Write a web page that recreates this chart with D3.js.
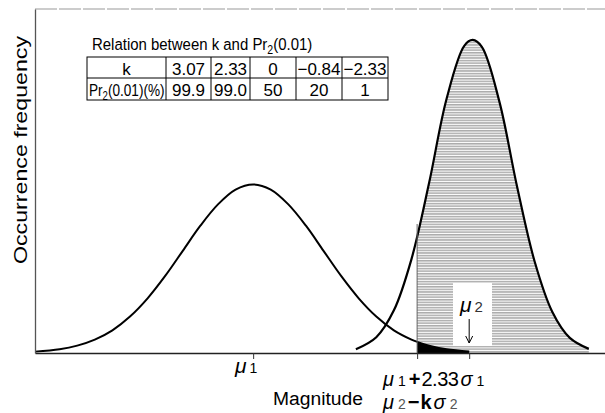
<!DOCTYPE html>
<html>
<head>
<meta charset="utf-8">
<script src="https://cdn.jsdelivr.net/npm/d3@7"></script>
<style>
  body { margin: 0; background: #fff; }
  svg { display: block; }
  text { font-family: "Liberation Sans", Arial, sans-serif; fill: #000; }
</style>
</head>
<body>
<div id="chart"></div>
<script>
// curve 1 (lower distribution), x in sigma1 units from mu1
let curve1X = [-3.1, -2.75, -2.5, -2.25, -2.0, -1.75, -1.5, -1.25, -1.0, -0.75, -0.5, -0.25, 0,
               0.25, 0.5, 0.75, 1.0, 1.25, 1.5, 1.75, 2.0, 2.25, 2.33, 2.5, 2.75, 3.07];
let curve1Y = [0.004, 0.011, 0.0215, 0.039, 0.066, 0.106, 0.159, 0.224, 0.297, 0.370, 0.432, 0.475, 0.49,
               0.475, 0.432, 0.370, 0.297, 0.224, 0.159, 0.106, 0.066, 0.039, 0.0325, 0.0215, 0.011, 0.0044];
// curve 2 (upper distribution)
let curve2X = [1.46, 1.75, 2.0, 2.25, 2.5, 2.75, 3.0, 3.12, 3.25, 3.5, 3.75, 4.0, 4.25, 4.5, 4.77];
let curve2Y = [0.011, 0.046, 0.124, 0.273, 0.494, 0.740, 0.893, 0.91, 0.890, 0.730, 0.484, 0.266, 0.120, 0.044, 0.012];

let mu1 = 0;
let cut = 2.33;      // mu1 + 2.33 sigma1
let mu2 = 3.07;      // mu2 tick
let cutLineTop = 0.375;

// table
let tableTitle = "Relation between k and Pr";
let rowHeads = ["k", "Pr"];
let kValues = ["3.07", "2.33", "0", "\u22120.84", "\u22122.33"];
let prValues = ["99.9", "99.0", "50", "20", "1"];

let config = { svg: { width: 605, height: 413 } };
let plot = { left: 35, right: 605, top: 9, bottom: 353 };

let svg = d3.select("#chart").append("svg")
  .attr("width", config.svg.width)
  .attr("height", config.svg.height);

let x = d3.scaleLinear().domain([-3.1, 5.0]).range([plot.left, plot.right]);
let y = d3.scaleLinear().domain([0, 1]).range([plot.bottom, plot.top]);

let c1 = curve1X.map((v, i) => ({ x: v, y: curve1Y[i] }));
let c2 = curve2X.map((v, i) => ({ x: v, y: curve2Y[i] }));

let line = d3.line().x(d => x(d.x)).y(d => y(d.y)).curve(d3.curveCatmullRom.alpha(0.5));
let area = d3.area().x(d => x(d.x)).y0(y(0)).y1(d => y(d.y)).curve(d3.curveCatmullRom.alpha(0.5));

let defs = svg.append("defs");
let pat = defs.append("pattern")
  .attr("id", "hatch")
  .attr("patternUnits", "userSpaceOnUse")
  .attr("width", 8).attr("height", 2.6);
pat.append("rect").attr("width", 8).attr("height", 2.6).attr("fill", "#fff");
pat.append("line").attr("x1", 0).attr("x2", 8).attr("y1", 0.8).attr("y2", 0.8)
  .attr("stroke", "#8a8a8a").attr("stroke-width", 1.1);

defs.append("clipPath").attr("id", "rightOfCut")
  .append("rect")
  .attr("x", x(cut)).attr("y", 0)
  .attr("width", plot.right - x(cut)).attr("height", plot.bottom);

// top frame line
svg.append("line")
  .attr("x1", plot.left).attr("x2", plot.right)
  .attr("y1", plot.top).attr("y2", plot.top)
  .attr("stroke", "#9a9a9a").attr("stroke-width", 1.2)
  .attr("stroke-dasharray", "22,2");

// hatched region
svg.append("path")
  .datum(c2)
  .attr("d", area)
  .attr("fill", "url(#hatch)")
  .attr("clip-path", "url(#rightOfCut)");

// white box behind mu2 label
svg.append("rect")
  .attr("x", 453).attr("y", 283)
  .attr("width", 39).attr("height", 63)
  .attr("fill", "#fff");

// black tail of curve 1
svg.append("path")
  .datum(c1.filter(d => d.x >= cut && d.x <= mu2))
  .attr("d", area)
  .attr("fill", "#000");

// curves
svg.append("path").datum(c1).attr("d", line)
  .attr("fill", "none").attr("stroke", "#000").attr("stroke-width", 2);
svg.append("path").datum(c2).attr("d", line)
  .attr("fill", "none").attr("stroke", "#000").attr("stroke-width", 2.2);

// axes
let xAxis = d3.axisBottom(x).tickValues([mu1, cut, mu2]).tickFormat("").tickSize(6).tickSizeOuter(0);
let gx = svg.append("g")
  .attr("transform", "translate(0," + plot.bottom + ")")
  .call(xAxis);
gx.select(".domain").attr("stroke", "#222").attr("stroke-width", 1.3);
gx.selectAll(".tick line").attr("stroke", "#333");

let yAxis = d3.axisLeft(y).tickValues([]).tickSizeOuter(0);
let gy = svg.append("g")
  .attr("transform", "translate(" + plot.left + ",0)")
  .call(yAxis);
gy.select(".domain").attr("stroke", "#555").attr("stroke-width", 1.3);

// cut line
svg.append("line")
  .attr("x1", x(cut)).attr("x2", x(cut))
  .attr("y1", y(cutLineTop)).attr("y2", plot.bottom)
  .attr("stroke", "#666").attr("stroke-width", 1);

// mu2 label + arrow
let m2 = svg.append("text").attr("x", 460).attr("y", 312).style("font-size", "21px");
m2.append("tspan").text("\u03bc").style("font-style", "italic");
m2.append("tspan").text("2").attr("dx", 3).style("font-size", "15px").style("fill", "#333");
svg.append("path")
  .attr("d", "M" + x(mu2) + ",319 V343 M" + (x(mu2) - 3.5) + ",336 L" + x(mu2) + ",343 L" + (x(mu2) + 3.5) + ",336")
  .attr("fill", "none").attr("stroke", "#000").attr("stroke-width", 1);

// x labels
let m1 = svg.append("text").attr("x", 235).attr("y", 373).style("font-size", "21px");
m1.append("tspan").text("\u03bc").style("font-style", "italic");
m1.append("tspan").text("1").attr("dx", 3).style("font-size", "14px");

svg.append("text").attr("x", 273).attr("y", 405)
  .attr("textLength", 90).attr("lengthAdjust", "spacingAndGlyphs")
  .style("font-size", "18px").text("Magnitude");

let l1 = svg.append("text").attr("x", 383).attr("y", 386).style("font-size", "20px");
l1.append("tspan").text("\u03bc").style("font-style", "italic");
l1.append("tspan").text("1").attr("dx", 4).style("font-size", "14px");
l1.append("tspan").text("+").attr("dx", 3).style("font-weight", "bold");
l1.append("tspan").text("2.33").attr("dx", 1).style("letter-spacing", "-0.5px");
l1.append("tspan").text("\u03c3").attr("dx", 2).style("font-style", "italic");
l1.append("tspan").text("1").attr("dx", 4).style("font-size", "14px");

let l2 = svg.append("text").attr("x", 383).attr("y", 409).style("font-size", "20px");
l2.append("tspan").text("\u03bc").style("font-style", "italic");
l2.append("tspan").text("2").attr("dx", 4).style("font-size", "14px").style("fill", "#555");
l2.append("tspan").text("\u2212").attr("dx", 2).style("font-weight", "bold");
l2.append("tspan").text("k").attr("dx", 1).style("font-weight", "bold");
l2.append("tspan").text("\u03c3").attr("dx", 2).style("font-style", "italic");
l2.append("tspan").text("2").attr("dx", 4).style("font-size", "14px").style("fill", "#555");

// y label
svg.append("text")
  .attr("transform", "translate(27,150) rotate(-90)")
  .attr("text-anchor", "middle")
  .attr("textLength", 228).attr("lengthAdjust", "spacingAndGlyphs")
  .style("font-size", "18px")
  .text("Occurrence frequency");

// table
let colX = [87, 166, 211, 250, 296, 342, 388];
let rowY = [57, 78, 100];

// narrow (condensed) title
let title = svg.append("text").attr("transform", "translate(92,50) scale(0.88,1)")
  .style("font-size", "17px");
title.append("tspan").text(tableTitle);
title.append("tspan").text("2").attr("dy", 4).style("font-size", "12px");
title.append("tspan").text("(0.01)").attr("dy", -4);

let tbl = svg.append("g");
tbl.append("rect")
  .attr("x", colX[0]).attr("y", rowY[0])
  .attr("width", colX[colX.length - 1] - colX[0]).attr("height", rowY[2] - rowY[0])
  .attr("fill", "none").attr("stroke", "#000").attr("stroke-width", 1);
tbl.append("line").attr("x1", colX[0]).attr("x2", colX[colX.length - 1])
  .attr("y1", rowY[1]).attr("y2", rowY[1]).attr("stroke", "#000");
tbl.selectAll(".col").data(colX.slice(1, -1)).enter().append("line")
  .attr("x1", d => d).attr("x2", d => d)
  .attr("y1", rowY[0]).attr("y2", rowY[2]).attr("stroke", "#000");

tbl.append("text").attr("x", (colX[0] + colX[1]) / 2).attr("y", 75)
  .attr("text-anchor", "middle").style("font-size", "17px").text(rowHeads[0]);
let ph = tbl.append("text").attr("transform", "translate(89,96) scale(0.8,1)")
  .style("font-size", "17px");
ph.append("tspan").text(rowHeads[1]);
ph.append("tspan").text("2").attr("dy", 4).style("font-size", "12px");
ph.append("tspan").text("(0.01)(%)").attr("dy", -4);

tbl.selectAll(".kv").data(kValues).enter().append("text")
  .attr("x", (d, i) => (colX[i + 1] + colX[i + 2]) / 2).attr("y", 75)
  .attr("text-anchor", "middle").style("font-size", "17px").text(d => d);
tbl.selectAll(".pv").data(prValues).enter().append("text")
  .attr("x", (d, i) => (colX[i + 1] + colX[i + 2]) / 2).attr("y", 96)
  .attr("text-anchor", "middle").style("font-size", "17px").text(d => d);
</script>
</body>
</html>
